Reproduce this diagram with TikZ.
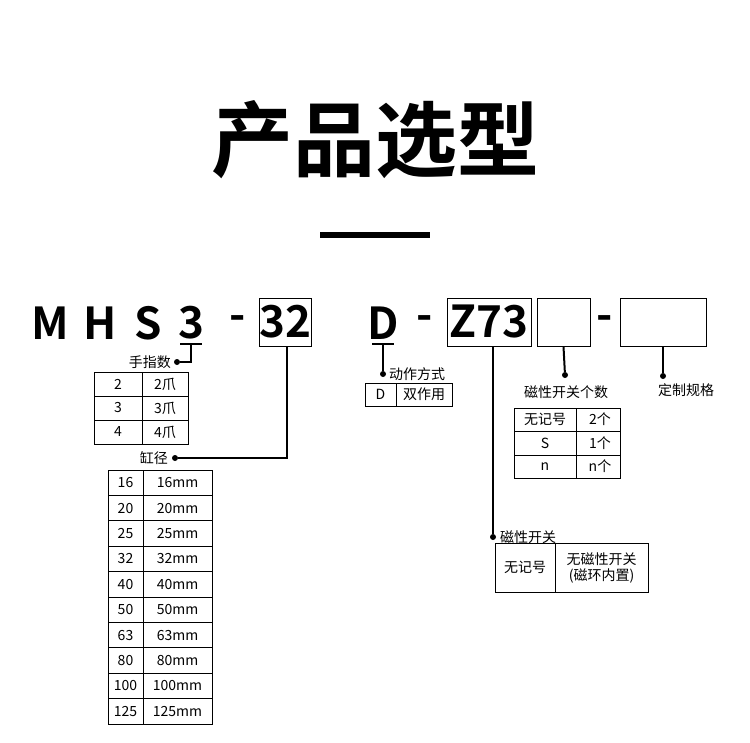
\documentclass[tikz,border=0pt]{standalone}
\usepackage{fontspec}
\setmainfont{Noto Sans CJK SC}
\newfontfamily\cjkb{Noto Sans CJK SC Bold}
\begin{document}
\begin{tikzpicture}[x=1pt,y=-1pt,
  lab/.style={font=\fontsize{14}{14}\selectfont,inner sep=1pt},
  code/.style={font=\cjkb\fontsize{44}{44}\selectfont,inner sep=0pt},
  ln/.style={line width=2pt},
  dot/.style={circle,fill=black,inner sep=0pt,minimum size=6pt},
  tb/.style={line width=0.9pt}]
\useasboundingbox (0,0) rectangle (750,742);
\node[font=\cjkb\fontsize{82}{82}\selectfont] (title) at (375,140) {产品选型};
\fill (320,232) rectangle (430,238);
% code
\node[code] (cM) at (50,323) {M};
\node[code] (cH) at (100,323) {H};
\node[code] (cS) at (148,323) {S};
\node[code] (c3) at (191,323) {3};
\node[code] (cd1) at (238,323) {-};
\node[code,draw,line width=0.8pt,minimum width=52pt,minimum height=48pt] (b32) at (285,322) {32};
\node[code] (cD) at (383,323) {D};
\node[code] (cd2) at (425,323) {-};
\node[code,draw,line width=0.8pt,minimum width=84pt,minimum height=48pt] (bz) at (489,322) {Z73};
\node[draw,line width=0.8pt,minimum width=53pt,minimum height=48pt] (be) at (563.5,322) {};
\node[code] (cd3) at (605,323) {-};
\node[draw,line width=0.8pt,minimum width=86pt,minimum height=48pt] (br) at (663,322) {};
% finger
\draw[ln] (180,344)--(202,344);
\node[dot] (d1) at (177,362) {};
\draw[ln] (191,344)--(191,362)--(d1);
\node[lab,anchor=east] (l1) at (172,362) {手指数};
\draw[tb] (94,372) rectangle (188,444) (142,372)--(142,444) (94,396)--(188,396) (94,420)--(188,420);
\foreach \a/\b/\y in {2/2爪/384,3/3爪/408,4/4爪/432}{
 \node[lab] at (118,\y) {\a}; \node[lab] at (165,\y) {\b};}
% bore
\node[dot] (d2) at (175,458) {};
\node[lab,anchor=east] (l2) at (169,458) {缸径};
\draw[ln] (b32.south -| 287,0)--(287,458)--(d2);
\draw[tb] (108,470) rectangle (212,724) (143,470)--(143,724);
\foreach \i/\v in {1/20,2/25,3/32,4/40,5/50,6/63,7/80,8/100,9/125}{
 \draw[tb] (108,470+25.4*\i)--(212,470+25.4*\i);}
\foreach[count=\i from 0] \v in {16,20,25,32,40,50,63,80,100,125}{
 \node[lab] at (125.5,482.7+25.4*\i) {\v};
 \node[lab] at (177.5,482.7+25.4*\i) {\v mm};}
% action
\draw[ln] (372,344)--(394,344);
\node[dot] (d3) at (383,374) {};
\draw[ln] (383,344)--(d3);
\node[lab,anchor=west] (l3) at (388,374) {动作方式};
\draw[tb] (365,383) rectangle (452,406) (396,383)--(396,406);
\node[lab] at (380.5,394.5) {D}; \node[lab] at (424,394.5) {双作用};
% magnetic switch
\node[dot] (d4) at (493,537) {};
\draw[ln] (493,346)--(d4);
\node[lab,anchor=west] (l4) at (499,537) {磁性开关};
\draw[tb] (495,543) rectangle (648,592) (555,543)--(555,592);
\node[lab] at (525,567.5) {无记号};
\node[lab,align=center,font=\fontsize{14}{16}\selectfont] at (601.5,567.5) {无磁性开关\\(磁环内置)};
% switch count
\node[dot] (d5) at (565,375) {};
\draw[ln] (be.south)--(d5);
\node[lab] (l5) at (566,392) {磁性开关个数};
\draw[tb] (514,408) rectangle (620,478) (576,408)--(576,478) (514,431)--(620,431) (514,455)--(620,455);
\foreach \a/\b/\y in {无记号/2个/419.5,S/1个/443,n/n个/466.5}{
 \node[lab] at (545,\y) {\a}; \node[lab] at (600,\y) {\b};}
% custom
\node[dot] (d6) at (663,376) {};
\draw[ln] (br.south)--(d6);
\node[lab] (l6) at (686,390) {定制规格};
\end{tikzpicture}
\end{document}
